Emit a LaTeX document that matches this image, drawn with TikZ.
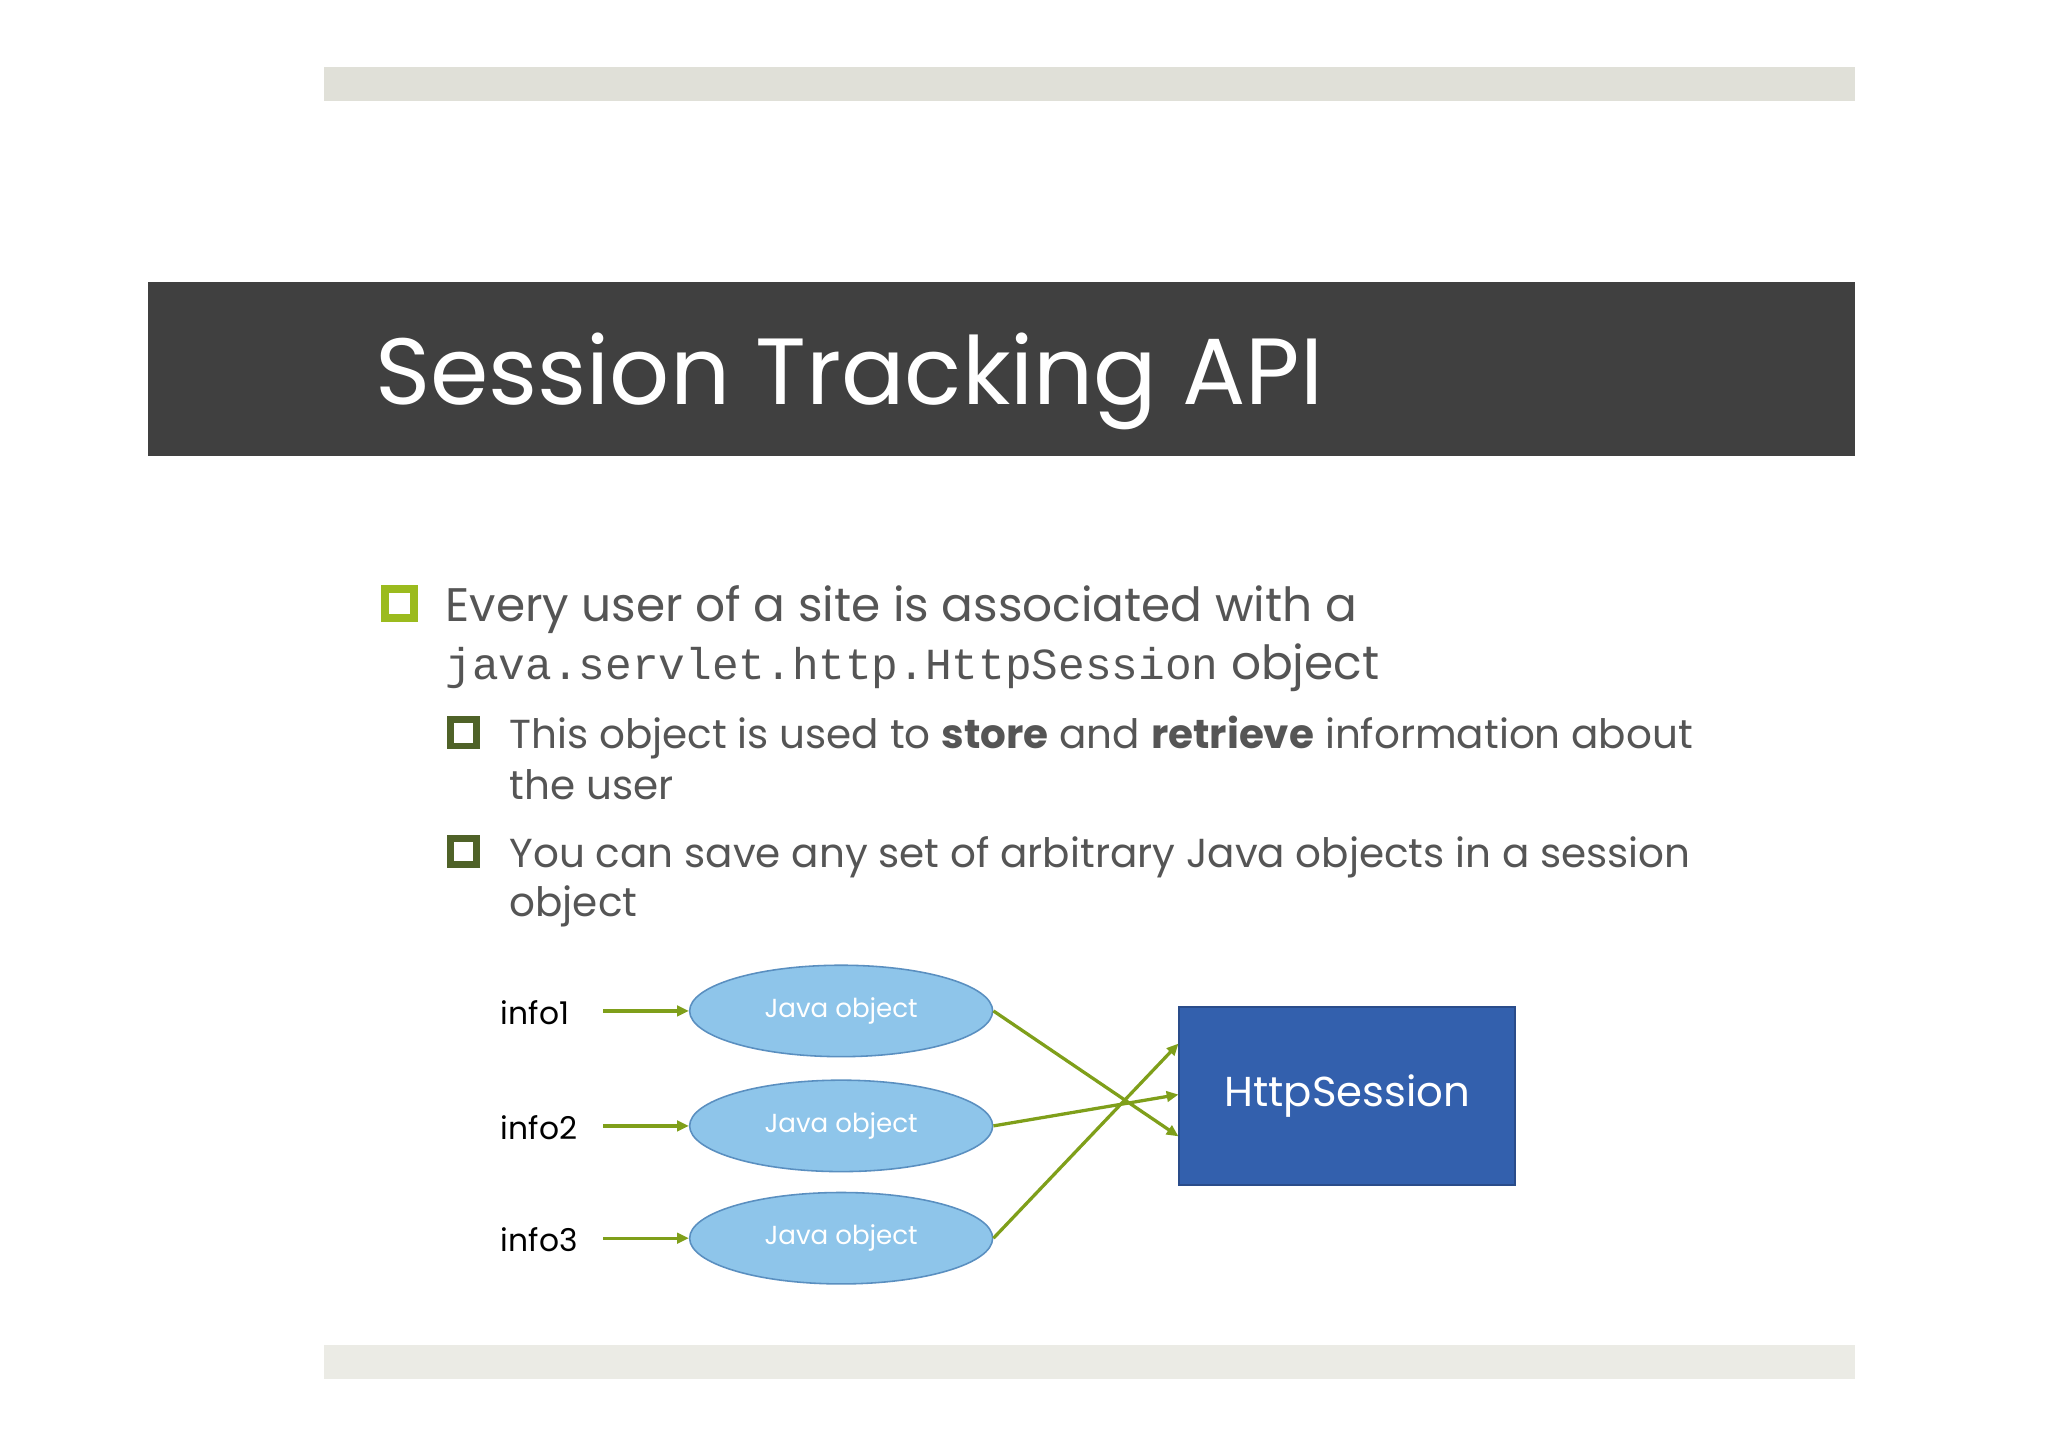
\documentclass[tikz,border=0pt]{standalone}
\usepackage{fontspec}
\setmainfont{Poppins}
\newfontfamily\monof{Liberation Mono}
\usetikzlibrary{shapes.geometric,arrows.meta}
\definecolor{txt}{HTML}{555555}
\definecolor{lime}{HTML}{9BBB1E}
\definecolor{olive}{HTML}{4F6228}
\definecolor{ell}{HTML}{8EC5EA}
\definecolor{ellb}{HTML}{5A8FC0}
\definecolor{boxf}{HTML}{3360AD}
\definecolor{boxb}{HTML}{2A4C8A}
\definecolor{arr}{HTML}{7F9F1A}
\definecolor{bartop}{HTML}{E0E0D8}
\definecolor{barbot}{HTML}{EBEBE5}
\definecolor{band}{HTML}{404040}
\tikzset{
 jobj/.style={ellipse,draw=ellb,line width=1.2pt,fill=ell,minimum width=232pt,minimum height=70pt,text=white,font=\fontsize{20}{24}\selectfont},
 lbl/.style={anchor=west,font=\fontsize{24}{28}\selectfont,text=black},
 con/.style={draw=arr,line width=2.5pt,-{Triangle[length=9pt,width=8pt]}},
 body/.style={anchor=base west,text=txt,inner sep=0},
}
\begin{document}
\begin{tikzpicture}[x=1pt,y=-1pt]
\useasboundingbox[fill=white] (0,0) rectangle (1568,1108);
\fill[bartop] (248,51) rectangle (1420,77);
\fill[barbot] (248,1030) rectangle (1420,1056);
\fill[band] (113,216) rectangle (1420,349);
\node[anchor=base west,inner sep=0,text=white,font=\fontsize{72}{80}\selectfont] (title) at (287,310) {Session Tracking API};
% bullets
\node[draw=lime,line width=6pt,minimum size=22pt,inner sep=0,fill=white] (b1) at (306,462) {};
\node[body,font=\fontsize{36}{40}\selectfont] (t1) at (341,476) {Every user of a site is associated with a};
\node[body,font=\fontsize{36}{40}\selectfont] (t2) at (341,520) {{\monof\fontsize{34}{40}\selectfont java.servlet.http.HttpSession} object};
\node[draw=olive,line width=5pt,minimum size=20pt,inner sep=0,fill=white] (b2) at (355,561) {};
\node[body,font=\fontsize{31}{36}\selectfont] (t3) at (390,573) {This object is used to \textbf{store} and \textbf{retrieve} information about};
\node[body,font=\fontsize{31}{36}\selectfont] (t4) at (390,612) {the user};
\node[draw=olive,line width=5pt,minimum size=20pt,inner sep=0,fill=white] (b3) at (355,652) {};
\node[body,font=\fontsize{31}{36}\selectfont] (t5) at (390,664) {You can save any set of arbitrary Java objects in a session};
\node[body,font=\fontsize{31}{36}\selectfont] (t6) at (390,702) {object};
% diagram
\node[jobj] (j1) at (644,774) {Java object};
\node[jobj] (j2) at (644,862) {Java object};
\node[jobj] (j3) at (644,948) {Java object};
\node[lbl] (i1) at (380,775) {info1};
\node[lbl] (i2) at (380,863) {info2};
\node[lbl] (i3) at (380,949) {info3};
\coordinate (s1) at (462,774);
\coordinate (s2) at (462,862);
\coordinate (s3) at (462,948);
\draw[con] (s1) -- (j1.west);
\draw[con] (s2) -- (j2.west);
\draw[con] (s3) -- (j3.west);
\node[draw=boxb,line width=1.5pt,fill=boxf,minimum width=257pt,minimum height=136pt,text=white,font=\fontsize{32}{36}\selectfont] (hs) at (1031.5,839) {HttpSession};
\draw[con] (j1.east) -- ([yshift=-31pt]hs.west);
\draw[con] (j2.east) -- ([yshift=1pt]hs.west);
\draw[con] (j3.east) -- ([yshift=40pt]hs.west);
\end{tikzpicture}
\end{document}
